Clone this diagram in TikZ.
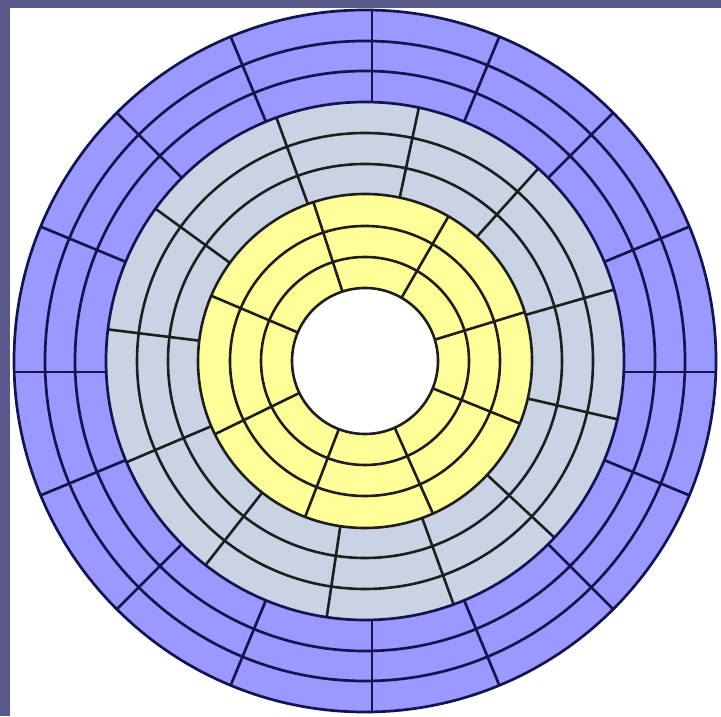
\documentclass[tikz,border=0pt]{standalone}
\definecolor{framec}{RGB}{89,88,138}
\definecolor{bluez}{RGB}{153,153,255}
\definecolor{grayz}{RGB}{202,211,228}
\definecolor{yelz}{RGB}{255,255,153}
\definecolor{navyline}{RGB}{20,20,80}
\definecolor{blkline}{RGB}{30,30,30}
\begin{document}
\begin{tikzpicture}[x=0.5pt,y=0.5pt,
  outerline/.style={navyline, line width=1.35pt},
  innerline/.style={blkline, line width=1.3pt}]
\useasboundingbox (0,0) rectangle (721,716);
\fill[framec] (0,0) rectangle (721,716);
\fill[white] (10,0) rectangle (721,708);
\begin{scope}[shift={(365,355)}]
  % zone fills
  \fill[bluez] (0,0) circle (351);
  \fill[grayz] (0,0) circle (259);
  \fill[yelz] (0,0) circle (167);
  \fill[white] (0,0) circle (73);
  % outer zone sector lines (16 sectors)
  \foreach \a in {22.5,45,67.5,112.5,135,157.5,202.5,225,247.5,292.5,315,337.5}
    \draw[outerline] (\a:259) -- (\a:351);
  \draw[outerline] (-351,-11) -- (-259,-11);
  \draw[outerline] (259,-11) -- (351,-11);
  \draw[outerline] (7,259) -- (7,351);
  \draw[outerline] (7,-259) -- (7,-351);
  % middle zone sector lines (12 sectors)
  \foreach \a in {16,48,78,110,144,173,203,232,261.5,290,317,347}
    \draw[innerline] (\a:167) -- (\a:259);
  % inner zone sector lines (8 sectors)
  \foreach \a in {17,60,108,157,206,249,294,338}
    \draw[innerline] (\a:73) -- (\a:167);
  % tracks
  \foreach \r in {73,104,135,167,197,228}
    \draw[innerline] (0,0) circle (\r);
  \foreach \r in {259,290,320,351}
    \draw[outerline] (0,0) circle (\r);
\end{scope}
\end{tikzpicture}
\end{document}
